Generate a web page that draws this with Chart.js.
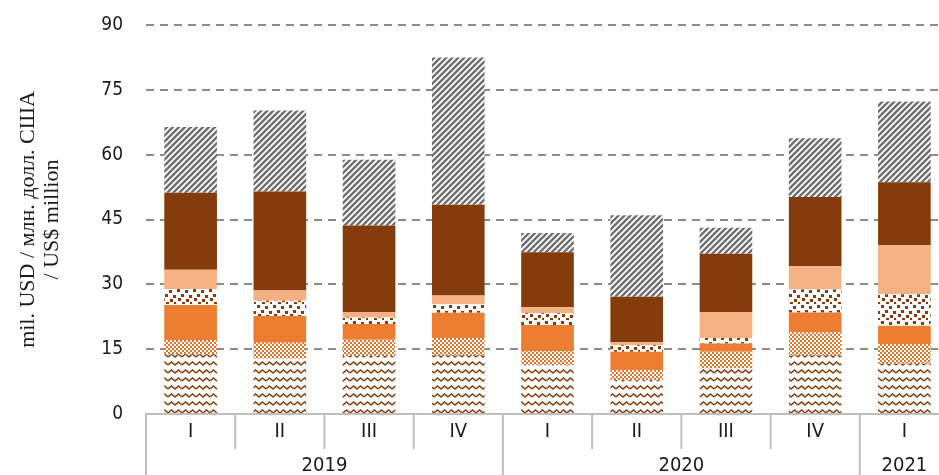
<!DOCTYPE html>
<html>
<head>
<meta charset="utf-8">
<script src="https://cdn.jsdelivr.net/npm/chart.js@4.4.1/dist/chart.umd.min.js"></script>
<style>
  html, body { margin: 0; padding: 0; background: #fff; overflow: hidden; }
  #wrap { width: 950px; height: 475px; }
</style>
</head>
<body>
<div id="wrap"><canvas id="chart" width="950" height="475"></canvas></div>
<script>
  "use strict";

  // categories
  const quarters = ["I", "II", "III", "IV", "I", "II", "III", "IV", "I"];
  const years = ["2019", "2019", "2019", "2019", "2020", "2020", "2020", "2020", "2021"];

  // series, bottom to top
  const waves = [13.8, 12.8, 13.4, 13.6, 11.3, 7.8, 10.5, 13.6, 11.7];
  const checker = [3.3, 3.7, 3.8, 4.0, 3.2, 2.3, 3.9, 5.3, 4.5];
  const orange = [8.1, 6.2, 3.6, 5.8, 6.1, 4.3, 1.9, 4.6, 4.2];
  const confetti = [3.7, 3.5, 1.5, 2.0, 2.7, 1.5, 1.3, 5.3, 7.3];
  const peach = [4.5, 2.5, 1.3, 2.0, 1.4, 0.7, 6.0, 5.4, 11.4];
  const brown = [17.8, 22.8, 20.0, 21.0, 12.7, 10.5, 13.5, 16.0, 14.5];
  const hatched = [15.2, 18.7, 15.2, 34.1, 4.5, 18.9, 6.0, 13.6, 18.7];

  const yTicks = [0, 15, 30, 45, 60, 75, 90];
  const yTitle = ["mil. USD / млн. долл. США", "/ US$ million"];

  const BROWN = "#843c0c";
  const ORANGE = "#ed7d31";
  const PEACH = "#f4b183";
  const GREY = "#6f6f6f";
  const AXIS = "#bfbfbf";
  const INK = "#1a1a1a";
  const FONT = "'Liberation Sans Narrow', 'DejaVu Sans Condensed', 'Liberation Sans', sans-serif";
  const SERIF = "'Liberation Serif', 'DejaVu Serif', serif";

  function makeTile(w, h, draw) {
    const c = document.createElement("canvas");
    c.width = w;
    c.height = h;
    const g = c.getContext("2d");
    g.fillStyle = "#fff";
    g.fillRect(0, 0, w, h);
    draw(g);
    return document.getElementById("chart").getContext("2d").createPattern(c, "repeat");
  }

  const wavePattern = makeTile(14, 8, function (g) {
    g.strokeStyle = BROWN;
    g.lineWidth = 1.6;
    g.beginPath();
    g.moveTo(0, 5);
    g.lineTo(3.5, 2);
    g.lineTo(7, 5);
    g.lineTo(10.5, 2);
    g.lineTo(14, 5);
    g.stroke();
  });

  const checkerPattern = makeTile(4, 4, function (g) {
    g.fillStyle = "#e2742a";
    g.fillRect(0, 0, 2, 2);
    g.fillRect(2, 2, 2, 2);
  });

  const confettiPattern = makeTile(16, 16, function (g) {
    g.fillStyle = BROWN;
    const spots = [[1, 1], [9, 2], [5, 6], [13, 7], [2, 10], [10, 11], [6, 14], [14, 14]];
    spots.forEach(function (s) {
      g.fillRect(s[0], s[1], 3, 3);
    });
  });

  const hatchPattern = makeTile(6, 6, function (g) {
    g.strokeStyle = GREY;
    g.lineWidth = 2.4;
    g.beginPath();
    g.moveTo(-1, 7);
    g.lineTo(7, -1);
    g.moveTo(-4, 4);
    g.lineTo(4, -4);
    g.moveTo(2, 10);
    g.lineTo(10, 2);
    g.stroke();
  });

  function series(data, fill) {
    return {
      data: data,
      backgroundColor: fill,
      borderWidth: 0,
      barPercentage: 0.59,
      categoryPercentage: 1
    };
  }

  // two-level category axis: short quarter separators, long year separators
  const yearAxisPlugin = {
    id: "yearAxis",
    afterDraw: function (chart) {
      const ctx = chart.ctx;
      const x = chart.scales.x;
      const area = chart.chartArea;
      const n = quarters.length;
      function edge(i) {
        if (i === 0) return area.left;
        if (i === n) return area.right;
        return (x.getPixelForValue(i - 1) + x.getPixelForValue(i)) / 2;
      }
      ctx.save();
      ctx.strokeStyle = AXIS;
      ctx.lineWidth = 2;
      const groups = [];
      let start = 0;
      for (let i = 0; i <= n; i++) {
        const isYear = i === 0 || i === n || years[i] !== years[i - 1];
        const px = edge(i);
        ctx.beginPath();
        ctx.moveTo(px, area.bottom);
        ctx.lineTo(px, isYear ? chart.height : area.bottom + 35);
        ctx.stroke();
        if (isYear && i > 0) {
          groups.push({ label: years[start], from: edge(start), to: px });
          start = i;
        }
      }
      ctx.fillStyle = INK;
      ctx.font = "20px " + FONT;
      ctx.textAlign = "center";
      ctx.textBaseline = "middle";
      groups.forEach(function (g) {
        ctx.fillText(g.label, (g.from + g.to) / 2, area.bottom + 52);
      });
      ctx.restore();
    }
  };

  new Chart(document.getElementById("chart"), {
    type: "bar",
    data: {
      labels: quarters,
      datasets: [
        series(waves, wavePattern),
        series(checker, checkerPattern),
        series(orange, ORANGE),
        series(confetti, confettiPattern),
        series(peach, PEACH),
        series(brown, BROWN),
        series(hatched, hatchPattern)
      ]
    },
    options: {
      responsive: false,
      animation: false,
      devicePixelRatio: 1,
      layout: { padding: { top: 25, right: 1, bottom: 33, left: 0 } },
      plugins: {
        legend: { display: false },
        tooltip: { enabled: false }
      },
      scales: {
        x: {
          stacked: true,
          border: { color: AXIS, width: 2 },
          grid: { display: false },
          ticks: {
            color: INK,
            font: { family: FONT, size: 20 },
            padding: -2,
            maxRotation: 0,
            autoSkip: false
          }
        },
        y: {
          stacked: true,
          min: yTicks[0],
          max: yTicks[yTicks.length - 1],
          afterBuildTicks: function (scale) {
            scale.ticks = yTicks.map(function (v) { return { value: v }; });
          },
          afterFit: function (scale) {
            scale.width = 146;
            scale.paddingTop = 0;
            scale.paddingBottom = 0;
          },
          border: { display: false, dash: [8, 6] },
          grid: {
            drawTicks: false,
            lineWidth: 2,
            color: function (c) {
              return c.tick && c.tick.value === 0 ? "rgba(0,0,0,0)" : "#8c8c8c";
            }
          },
          ticks: {
            color: INK,
            font: { family: FONT, size: 19 },
            padding: 23
          },
          title: {
            display: true,
            text: yTitle,
            color: INK,
            font: { family: SERIF, size: 22, lineHeight: 1.1 },
            padding: { top: 16, bottom: 0 }
          }
        }
      }
    },
    plugins: [yearAxisPlugin]
  });
</script>
</body>
</html>
